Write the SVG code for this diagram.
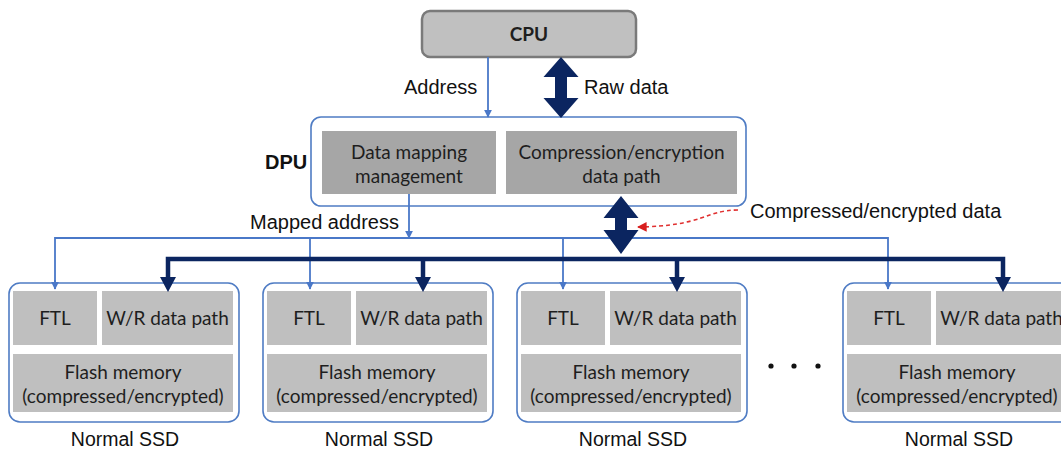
<svg xmlns="http://www.w3.org/2000/svg" width="1061" height="450" viewBox="0 0 1061 450">
  <style>
    .sans { font-family: "Liberation Sans", Arial, sans-serif; fill: #111; }
    .lbl { font-size: 20px; }
    .blk { font-family: Lato, "Open Sans", sans-serif; font-size: 19px; fill: #1e1e1e; text-anchor: middle; }
    .cpu { fill: #c0c0c0; stroke: #7a7a7a; stroke-width: 2.5; }
    .frame { fill: #ffffff; stroke: #4f7cc4; stroke-width: 1.6; }
    .dark { fill: #a6a6a6; }
    .light { fill: #bfbfbf; }
    .thin { fill: none; stroke: #4a78c8; stroke-width: 1.8; }
    .thick { fill: none; stroke: #0b2560; stroke-width: 4.5; }
    .navy { fill: #0b2560; }
    .red { fill: none; stroke: #e03030; stroke-width: 1.6; stroke-dasharray: 4 3; }
  </style>
  <defs>
    <marker id="tipBlue" viewBox="0 0 10 10" refX="9" refY="5" markerWidth="4.5" markerHeight="4.5" orient="auto" markerUnits="strokeWidth">
      <path d="M0,0 L10,5 L0,10 z" fill="#4a78c8"/>
    </marker>
    <marker id="tipRed" viewBox="0 0 10 10" refX="9" refY="5" markerWidth="6" markerHeight="6" orient="auto" markerUnits="strokeWidth">
      <path d="M0,0 L10,5 L0,10 z" fill="#d81e1e"/>
    </marker>
    <!-- solid down arrowhead for the write/read data bus -->
    <path id="busTip" d="M-8,0 L8,0 L0,15 z" class="navy"/>
    <!-- one SSD: outer frame, FTL, data path and flash blocks -->
    <g id="ssd">
      <rect x="0" y="283" width="230" height="139" rx="11" class="frame"/>
      <rect x="4" y="291" width="84" height="54" class="light"/>
      <rect x="93" y="291" width="131" height="54" class="light"/>
      <rect x="4" y="354" width="220" height="58" class="light"/>
      <text x="46" y="325" class="blk">FTL</text>
      <text x="158.5" y="325" class="blk">W/R data path</text>
      <text x="114" y="379" class="blk">Flash memory</text>
      <text x="114" y="403" class="blk">(compressed/encrypted)</text>
      <text x="116" y="446" class="sans" font-size="19.5" text-anchor="middle">Normal SSD</text>
    </g>
  </defs>

  <!-- host CPU -->
  <g id="cpu">
    <rect x="422" y="11" width="214" height="46" rx="8" class="cpu"/>
    <text x="529" y="41" class="blk" font-weight="bold" font-size="17">CPU</text>
  </g>

  <!-- DPU with its two functional blocks -->
  <g id="dpu">
    <rect x="311" y="117" width="435" height="89" rx="10" class="frame"/>
    <rect x="322" y="131" width="174" height="63" class="dark"/>
    <rect x="506" y="131" width="231" height="63" class="dark"/>
    <text x="409" y="159" class="blk">Data mapping</text>
    <text x="409" y="183" class="blk">management</text>
    <text x="621.5" y="159" class="blk">Compression/encryption</text>
    <text x="621.5" y="183" class="blk">data path</text>
    <text x="265" y="169" class="sans lbl" font-weight="bold">DPU</text>
  </g>

  <!-- SSD array -->
  <g id="ssd1"><use href="#ssd" x="9"/></g>
  <g id="ssd2"><use href="#ssd" x="263"/></g>
  <g id="ssd3"><use href="#ssd" x="517"/></g>
  <g id="ssd4"><use href="#ssd" x="843"/></g>

  <g id="ellipsis" fill="#111">
    <circle cx="771" cy="366" r="2.6"/>
    <circle cx="794" cy="366" r="2.6"/>
    <circle cx="818" cy="366" r="2.6"/>
  </g>

  <g id="connectors">
    <!-- address path -->
    <line x1="488" y1="57" x2="488" y2="117" class="thin" marker-end="url(#tipBlue)"/>
    <line x1="409" y1="194" x2="409" y2="238" class="thin" marker-end="url(#tipBlue)"/>
    <path d="M55,289 V238 H888 V289" class="thin"/>
    <line x1="55" y1="280" x2="55" y2="289" class="thin" marker-end="url(#tipBlue)"/>
    <line x1="310" y1="238" x2="310" y2="289" class="thin" marker-end="url(#tipBlue)"/>
    <line x1="563" y1="238" x2="563" y2="289" class="thin" marker-end="url(#tipBlue)"/>
    <line x1="888" y1="280" x2="888" y2="289" class="thin" marker-end="url(#tipBlue)"/>

    <!-- raw data between CPU and DPU -->
    <polygon class="navy" points="561,57 578.5,77 567,77 567,98 578.5,98 561,118 543.5,98 555,98 555,77 543.5,77"/>
    <!-- compressed data between DPU and SSD bus -->
    <polygon class="navy" points="621,196 638.5,218 627,218 627,230 638.5,230 621,254 603.5,230 615,230 615,218 603.5,218"/>

    <!-- data bus to the SSDs -->
    <path d="M168,278 V259 H1003 V278" class="thick"/>
    <line x1="423" y1="259" x2="423" y2="278" class="thick"/>
    <line x1="677" y1="259" x2="677" y2="278" class="thick"/>
    <use href="#busTip" x="168" y="277"/>
    <use href="#busTip" x="423" y="277"/>
    <use href="#busTip" x="677" y="277"/>
    <use href="#busTip" x="1003" y="277"/>

    <!-- callout for the compressed stream -->
    <path d="M738,210 C705,210 705,226 638,227" class="red" marker-end="url(#tipRed)"/>
  </g>

  <!-- edge labels -->
  <g id="labels" class="sans lbl">
    <text x="404" y="94">Address</text>
    <text x="584" y="94">Raw data</text>
    <text x="250" y="229">Mapped address</text>
    <text x="750" y="218">Compressed/encrypted data</text>
  </g>
</svg>
